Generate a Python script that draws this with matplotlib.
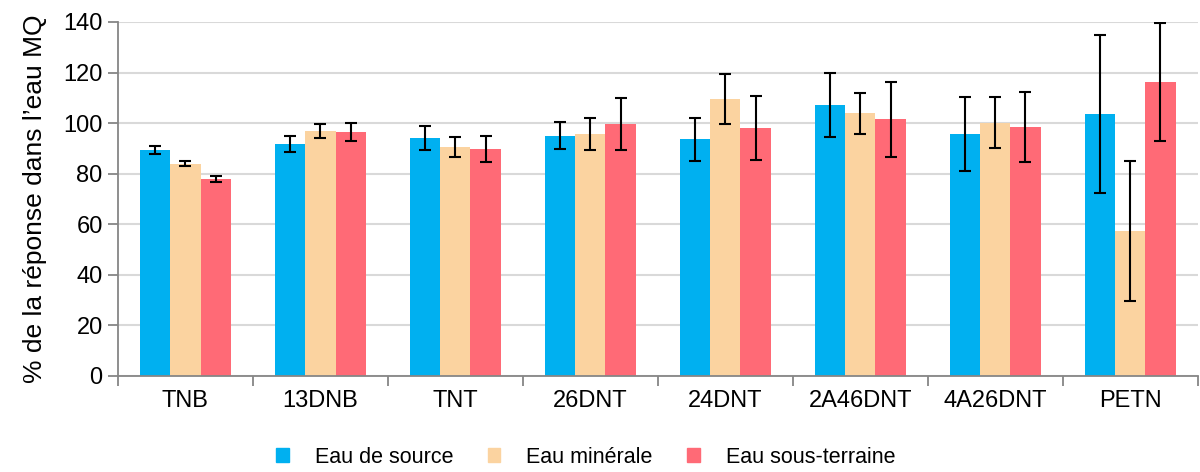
import numpy as np
import matplotlib
matplotlib.use("Agg")
import matplotlib.pyplot as plt
from matplotlib.patches import Patch

plt.rcParams['font.family'] = ['Liberation Sans', 'DejaVu Sans']

# explosives and mean recovery (%) per water type, with standard deviations
compounds = ['TNB', '13DNB', 'TNT', '26DNT', '24DNT', '2A46DNT', '4A26DNT', 'PETN']
series = ['Eau de source', 'Eau minérale', 'Eau sous-terraine']
source = [89.4, 91.7, 94.1, 95.0, 93.6, 107.2, 95.6, 103.5]
source_sd = [1.6, 3.1, 4.75, 5.3, 8.6, 12.5, 14.7, 31.2]
minerale = [84.0, 96.9, 90.6, 95.7, 109.5, 103.9, 100.2, 57.5]
minerale_sd = [1.05, 2.6, 3.9, 6.3, 10.0, 8.1, 10.1, 27.7]
souterraine = [77.9, 96.5, 89.8, 99.7, 98.1, 101.5, 98.5, 116.3]
souterraine_sd = [1.3, 3.7, 5.2, 10.3, 12.8, 14.9, 14.0, 23.4]
colors = ['#00B0F0', '#FBD3A0', '#FF6A76']

fig = plt.figure(figsize=(12, 4.72), dpi=100)
ax = fig.add_axes([0.0983, 0.2034, 0.8997, 0.75])

x = np.arange(len(compounds))
w = 0.2245
data = [(source, source_sd), (minerale, minerale_sd), (souterraine, souterraine_sd)]
for i, (vals, sd) in enumerate(data):
    ax.bar(x + (i - 1) * w, vals, w, color=colors[i], zorder=2,
           yerr=sd, error_kw=dict(ecolor='black', elinewidth=1.5, capsize=4.3, capthick=1.5, zorder=3))

ax.set_xlim(-0.5, len(compounds) - 0.5)
ax.set_ylim(0, 140)
ax.set_yticks(np.arange(0, 141, 20))
ax.yaxis.grid(True, color='#d9d9d9', linewidth=1.5, zorder=0)
ax.set_axisbelow(True)

# category boundaries get the tick marks, labels sit in between
ax.set_xticks(np.arange(-0.5, len(compounds), 1))
ax.set_xticklabels([])
ax.set_xticks(x, minor=True)
ax.set_xticklabels(compounds, minor=True)
ax.tick_params(axis='x', which='major', length=7, width=1.3, color='#868686', direction='out')
ax.tick_params(axis='x', which='minor', length=0, labelsize=17, pad=10)
ax.tick_params(axis='y', length=7, width=1.3, color='#868686', direction='out', labelsize=17, pad=4)

for s in ['top', 'right']:
    ax.spines[s].set_visible(False)
for s in ['left', 'bottom']:
    ax.spines[s].set_color('#868686')
    ax.spines[s].set_linewidth(1.3)

ax.set_ylabel('% de la réponse dans l\u2019eau MQ', fontsize=19, labelpad=12)

handles = [Patch(color=c, label=l) for c, l in zip(colors, series)]
fig.legend(handles=handles, loc='lower center', bbox_to_anchor=(0.488, -0.032), ncol=3,
           frameon=False, fontsize=15.5, handlelength=0.6, handleheight=0.6,
           handletextpad=1.2, columnspacing=1.6)

fig.savefig('out.png', dpi=100)
